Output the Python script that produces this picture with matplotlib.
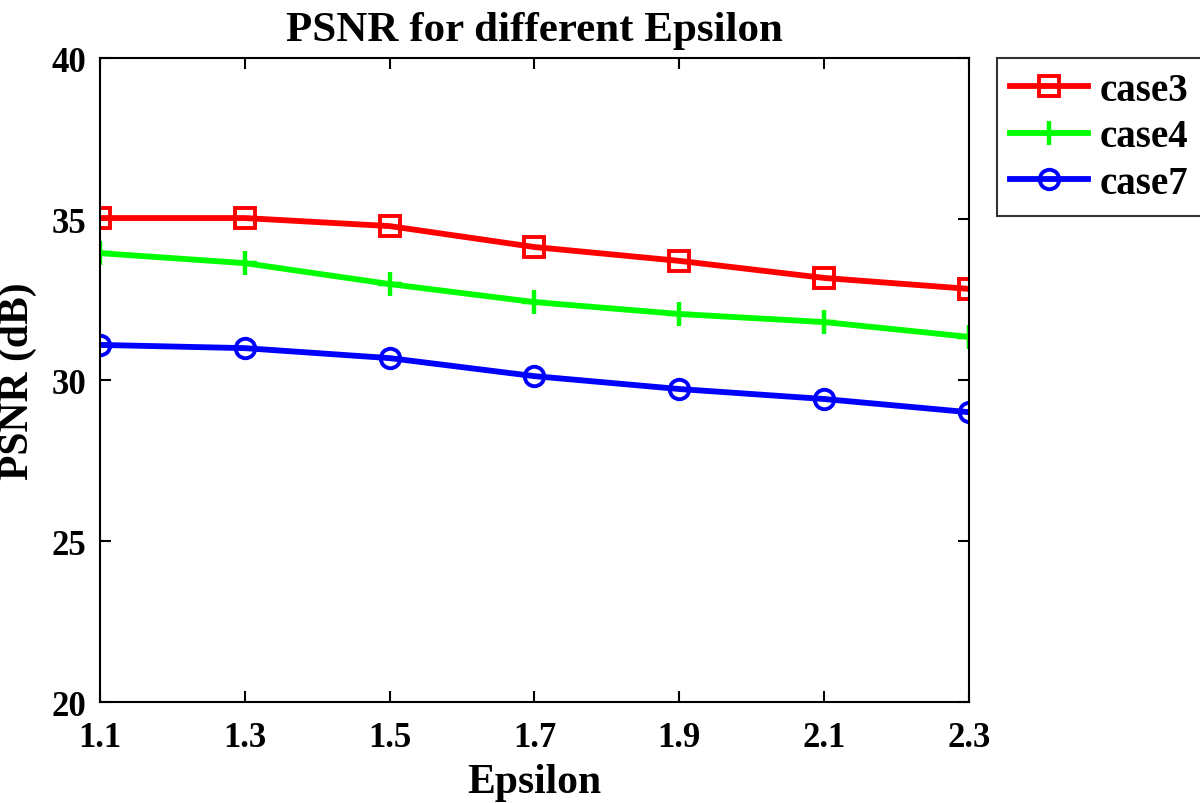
import matplotlib
matplotlib.use("Agg")
import matplotlib.pyplot as plt

epsilon = [1.1, 1.3, 1.5, 1.7, 1.9, 2.1, 2.3]
case3 = [35.03, 35.03, 34.78, 34.13, 33.70, 33.17, 32.83]
case4 = [33.94, 33.63, 32.98, 32.42, 32.05, 31.80, 31.34]
case7 = [31.09, 30.99, 30.68, 30.12, 29.72, 29.41, 29.00]
xticks = [1.1, 1.3, 1.5, 1.7, 1.9, 2.1, 2.3]
yticks = [20, 25, 30, 35, 40]

plt.rcParams["font.family"] = ["Liberation Serif", "DejaVu Serif"]
plt.rcParams["font.weight"] = "bold"

fig = plt.figure(figsize=(12, 8.04), dpi=100)
ax = fig.add_axes([0.0833, 0.1256, 0.7242, 0.801])

style = dict(linewidth=4.2, markersize=14, markeredgewidth=2.8, markerfacecolor="none")
ax.plot(epsilon, case3, color="#ff0000", marker="s", label="case3", **style)
ax.plot(epsilon, case4, color="#00ff00", marker="+", label="case4",
        linewidth=4.2, markersize=17, markeredgewidth=3.2)
ax.plot(epsilon, case7, color="#0000ff", marker="o", label="case7", **style)

ax.set_xlim(1.1, 2.3)
ax.set_ylim(20, 40)
ax.set_xticks(xticks)
ax.set_xticklabels([f"{v:.1f}" for v in xticks])
ax.set_yticks(yticks)
ax.tick_params(direction="in", length=8, width=1.5, labelsize=25,
               top=True, right=True, pad=10)
ax.tick_params(axis="x", pad=14)
for lab in ax.get_xticklabels() + ax.get_yticklabels():
    lab.set_fontweight("bold")
for s in ax.spines.values():
    s.set_linewidth(1.5)

ax.set_title("PSNR for different Epsilon", fontsize=31, fontweight="bold", pad=13)
ax.set_xlabel("Epsilon", fontsize=30, fontweight="bold", labelpad=6)
ax.set_ylabel("PSNR (dB)", fontsize=30, fontweight="bold", labelpad=10)

leg = ax.legend(loc="upper left", bbox_to_anchor=(1.032, 1.0), fontsize=28,
                frameon=True, fancybox=False, edgecolor="black",
                handlelength=2.0, handletextpad=0.3, borderpad=0.35,
                labelspacing=0.25, borderaxespad=0)
leg.get_frame().set_linewidth(1.5)
for t in leg.get_texts():
    t.set_fontweight("bold")

fig.savefig("out.png", dpi=100)
